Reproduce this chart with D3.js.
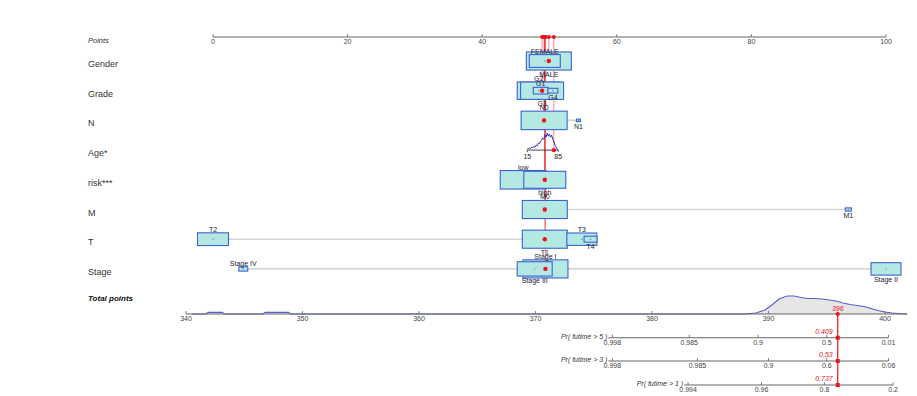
<!DOCTYPE html>
<html>
<head>
<meta charset="utf-8">
<script src="https://cdn.jsdelivr.net/npm/d3@7"></script>
<style>
  body { margin: 0; background: #fff; }
  svg text { font-family: "Liberation Sans", Arial, sans-serif; }
</style>
</head>
<body>
<div id="nomogram"></div>
<script>
// ---- data ----
var rowNames = ["Gender", "Grade", "N", "Age*", "risk***", "M", "T", "Stage"];

var genderLevels = ["FEMALE", "MALE"];
var genderPoints = [49.3, 49.9];
var genderN = [240, 506];

var gradeLevels = ["G1", "G2", "G3", "G4"];
var gradePoints = [48.7, 48.4, 48.9, 50.5];
var gradeN = [56, 462, 462, 25];

var nLevels = ["N0", "N1"];
var nPoints = [49.2, 54.3];
var nN = [529, 4];

var ageRange = [15, 85];
var agePointsRange = [46.7, 51.3];
var ageGrid = [15, 17.5, 20, 22.5, 25, 27.5, 30, 32.5, 35, 37.5, 40, 42.5, 45, 47.5, 50,
               52.5, 55, 57.5, 60, 62.5, 65, 67.5, 70, 72.5, 75, 77.5, 80, 82.5, 85];
var ageDensity = [1, 1.5, 2, 1.5, 3, 2.5, 3.5, 3, 5, 4.5, 7, 6.5, 9, 10, 12,
                  11, 15, 13, 17, 14, 16, 13, 15, 11, 9, 5, 3, 1, 0];

var riskLevels = ["low", "high"];
var riskPoints = [46.1, 49.3];
var riskN = [529, 441];

var mLevels = ["M0", "M1"];
var mPoints = [49.3, 94.4];
var mN = [506, 9];

var tLevels = ["T1", "T2", "T3", "T4"];
var tPoints = [49.3, 0, 54.8, 56.1];
var tN = [506, 240, 225, 42];

var stageLevels = ["Stage I", "Stage II", "Stage III", "Stage IV"];
var stagePoints = [49.4, 100, 47.8, 4.5];
var stageN = [506, 225, 306, 20];

// the patient shown in red
var patientLevel = { Gender: "MALE", Grade: "G3", N: "N0", "risk***": "high", M: "M0", T: "T1", Stage: "Stage I" };
var patientAge = 75;

var pointTicks = [0, 20, 40, 60, 80, 100];
var totalTicks = [340, 350, 360, 370, 380, 390, 400];
var totalDomain = [340, 401.9];

var totalDensT = [340.5, 341.7, 341.9, 343.1, 343.3, 346.6, 346.8, 348.8, 349, 388, 388.9, 389.7, 390.3, 390.9,
                  391.6, 392.2, 392.8, 393.4, 394, 394.6, 395.2, 395.8, 396.4, 397, 397.6, 398.2,
                  398.8, 399.4, 400, 400.6, 401.2, 401.9];
var totalDens = [0, 0, 1.6, 1.6, 0, 0, 1.6, 1.6, 0, 0, 1, 4, 9, 15,
                 18, 18, 16.5, 15.5, 15.5, 15, 14, 13, 11, 9.5, 8.5, 7.5,
                 5.5, 3.5, 2, 1, 0.5, 0];

var probLabels = ["Pr( futime > 5 )", "Pr( futime > 3 )", "Pr( futime > 1 )"];
var prob5Ticks = ["0.998", "0.985", "0.9", "0.5", "0.01"];
var prob5At = [376.6, 383.2, 389.1, 395.0, 400.3];
var prob3Ticks = ["0.998", "0.985", "0.9", "0.6", "0.06"];
var prob3At = [376.6, 383.9, 390.0, 395.0, 400.3];
var prob1Ticks = ["0.994", "0.96", "0.8", "0.2"];
var prob1At = [383.1, 389.4, 394.8, 400.7];
var patientProb = ["0.409", "0.53", "0.737"];

// ---- layout ----
var width = 917, height = 396;
var labelX = 88;
var pointsY = 37;
var rowY0 = 61, rowStep = 29.7;
var totalY = 314;
var probY = [337.7, 361, 385];

var red = "#e8141c";
var boxFill = "#b4e8e3";
var boxStroke = "#3b63d0";

// which side the level label sits on
var labelSide = {
  FEMALE: "above", MALE: "below",
  G1: "above", G2: "above", G3: "below", G4: "below",
  N0: "above", N1: "below",
  low: "above", high: "below",
  M0: "above", M1: "below",
  T1: "below", T2: "above", T3: "above", T4: "below",
  "Stage I": "above", "Stage II": "below", "Stage III": "below", "Stage IV": "above"
};

var svg = d3.select("#nomogram").append("svg")
  .attr("width", width)
  .attr("height", height);

var x = d3.scaleLinear().domain([0, 100]).range([213, 886]);
var xTot = d3.scaleLinear().domain([340, 400]).range([186, 885]);
var ageToPts = d3.scaleLinear().domain(ageRange).range(agePointsRange);

function rowY(i) { return rowY0 + i * rowStep; }

// row labels
svg.append("text").attr("x", labelX).attr("y", pointsY + 6)
  .attr("font-size", 7.5).attr("font-style", "italic").attr("fill", "#333").text("Points");
rowNames.forEach(function(name, i) {
  svg.append("text").attr("x", labelX).attr("y", rowY(i) + 6)
    .attr("font-size", 9).attr("fill", "#333").text(name);
});
svg.append("text").attr("x", labelX).attr("y", 301)
  .attr("font-size", 8).attr("font-style", "italic").attr("font-weight", "bold")
  .attr("fill", "#111").text("Total points");

// flat axis with small upward ticks, labels underneath
function flatAxis(g, scale, ticks, y, x0, x1) {
  g.append("line").attr("x1", x0).attr("x2", x1).attr("y1", y).attr("y2", y)
    .attr("stroke", "#666").attr("stroke-width", 1.2);
  ticks.forEach(function(t) {
    var tx = scale(t);
    g.append("line").attr("x1", tx).attr("x2", tx).attr("y1", y).attr("y2", y - 3)
      .attr("stroke", "#666").attr("stroke-width", 0.8);
    g.append("text").attr("x", tx).attr("y", y + 7).attr("text-anchor", "middle")
      .attr("font-size", 7).attr("fill", "#444").text(t);
  });
}
flatAxis(svg.append("g"), x, pointTicks, pointsY, x(0), x(100));

// categorical rows
var catRows = [
  { name: "Gender", levels: genderLevels, pts: genderPoints, n: genderN },
  { name: "Grade", levels: gradeLevels, pts: gradePoints, n: gradeN },
  { name: "N", levels: nLevels, pts: nPoints, n: nN },
  { name: "risk***", levels: riskLevels, pts: riskPoints, n: riskN },
  { name: "M", levels: mLevels, pts: mPoints, n: mN },
  { name: "T", levels: tLevels, pts: tPoints, n: tN },
  { name: "Stage", levels: stageLevels, pts: stagePoints, n: stageN }
];

var patientPts = [];
var redG = svg.append("g");
var rowsG = svg.append("g");

catRows.forEach(function(row) {
  var i = rowNames.indexOf(row.name);
  var y = rowY(i);
  var g = rowsG.append("g");
  var ext = d3.extent(row.pts);
  g.append("line").attr("x1", x(ext[0])).attr("x2", x(ext[1])).attr("y1", y).attr("y2", y)
    .attr("stroke", "#d6d6d6").attr("stroke-width", 1.6);

  var items = row.levels.map(function(l, k) {
    var w = 2.0 * Math.sqrt(row.n[k]);
    return { level: l, pts: row.pts[k], w: w, h: 0.38 * w + 1 };
  });
  items.sort(function(a, b) { return b.w - a.w; });

  g.selectAll("rect").data(items).enter().append("rect")
    .attr("x", function(d) { return x(d.pts) - d.w / 2; })
    .attr("y", function(d) { return y - d.h / 2; })
    .attr("width", function(d) { return d.w; })
    .attr("height", function(d) { return d.h; })
    .attr("fill", boxFill).attr("stroke", boxStroke).attr("stroke-width", 1.1);

  g.selectAll("circle.c").data(items).enter().append("circle")
    .attr("cx", function(d) { return x(d.pts); }).attr("cy", y).attr("r", 0.7)
    .attr("fill", "#6a8a9a");

  g.selectAll("text").data(items).enter().append("text")
    .attr("x", function(d) { return x(d.pts); })
    .attr("y", function(d) {
      return labelSide[d.level] === "above" ? y - d.h / 2 - 1 : y + d.h / 2 + 7;
    })
    .attr("text-anchor", "middle").attr("font-size", 7).attr("fill", "#223")
    .text(function(d) { return d.level; });

  var k = row.levels.indexOf(patientLevel[row.name]);
  patientPts.push({ pts: row.pts[k], y: y });
});

// age row
(function() {
  var i = rowNames.indexOf("Age*");
  var y = rowY(i);
  var g = rowsG.append("g");
  var ax0 = x(ageToPts(ageRange[0])), ax1 = x(ageToPts(ageRange[1]));
  g.append("line").attr("x1", ax0).attr("x2", ax1).attr("y1", y).attr("y2", y)
    .attr("stroke", "#333").attr("stroke-width", 0.9);
  ageRange.forEach(function(a) {
    g.append("line").attr("x1", x(ageToPts(a))).attr("x2", x(ageToPts(a)))
      .attr("y1", y).attr("y2", y + 2).attr("stroke", "#333").attr("stroke-width", 0.8);
    g.append("text").attr("x", x(ageToPts(a))).attr("y", y + 9).attr("text-anchor", "middle")
      .attr("font-size", 7).attr("fill", "#222").text(a);
  });
  var hY = d3.scaleLinear().domain([0, 17]).range([y, y - 17]);
  var line = d3.line()
    .x(function(d, k) { return x(ageToPts(ageGrid[k])); })
    .y(function(d) { return hY(d); });
  g.append("path").datum(ageDensity).attr("d", line)
    .attr("fill", "none").attr("stroke", "#3030c8").attr("stroke-width", 1);
  patientPts.push({ pts: ageToPts(patientAge), y: y });
})();

// red patient lines and dots
patientPts.forEach(function(p) {
  redG.append("line").attr("x1", x(p.pts)).attr("x2", x(p.pts))
    .attr("y1", pointsY).attr("y2", p.y)
    .attr("stroke", red).attr("stroke-width", 0.7).attr("opacity", 0.7);
});
var dotG = svg.append("g");
patientPts.forEach(function(p) {
  dotG.append("circle").attr("cx", x(p.pts)).attr("cy", p.y).attr("r", 2.2).attr("fill", red);
  dotG.append("circle").attr("cx", x(p.pts)).attr("cy", pointsY).attr("r", 2).attr("fill", red);
});

var total = d3.sum(patientPts, function(p) { return p.pts; });

// total points density + axis
var dScale = d3.scaleLinear().domain([0, 18]).range([totalY, totalY - 18]);
var area = d3.area()
  .x(function(d, k) { return xTot(totalDensT[k]); })
  .y0(totalY).y1(function(d) { return dScale(d); });
var dLine = d3.line()
  .x(function(d, k) { return xTot(totalDensT[k]); })
  .y(function(d) { return dScale(d); });
svg.append("path").datum(totalDens).attr("d", area).attr("fill", "#e6e6e6");
svg.append("path").datum(totalDens).attr("d", dLine)
  .attr("fill", "none").attr("stroke", "#5b5bd0").attr("stroke-width", 1.1);
flatAxis(svg.append("g"), xTot, totalTicks, totalY, xTot(totalDomain[0]), xTot(totalDomain[1]));

// probability axes
var probTicks = [prob5Ticks, prob3Ticks, prob1Ticks];
var probAt = [prob5At, prob3At, prob1At];
svg.append("line").attr("x1", xTot(total)).attr("x2", xTot(total))
  .attr("y1", totalY).attr("y2", probY[2])
  .attr("stroke", red).attr("stroke-width", 1.2);
probLabels.forEach(function(lab, j) {
  var g = svg.append("g");
  var at = probAt[j], y = probY[j];
  var x0 = xTot(at[0]) - 4;
  g.append("line").attr("x1", x0).attr("x2", xTot(at[at.length - 1])).attr("y1", y).attr("y2", y)
    .attr("stroke", "#666").attr("stroke-width", 1.1);
  at.forEach(function(t, k) {
    g.append("line").attr("x1", xTot(t)).attr("x2", xTot(t)).attr("y1", y).attr("y2", y - 3)
      .attr("stroke", "#666").attr("stroke-width", 0.8);
    g.append("text").attr("x", xTot(t)).attr("y", y + 7).attr("text-anchor", "middle")
      .attr("font-size", 7).attr("fill", "#444").text(probTicks[j][k]);
  });
  g.append("text").attr("x", x0 - 1).attr("y", y + 1).attr("text-anchor", "end")
    .attr("font-size", 7).attr("font-style", "italic").attr("fill", "#333").text(lab);
  g.append("rect").attr("x", xTot(total) - 2).attr("y", y - 2).attr("width", 4).attr("height", 4)
    .attr("fill", red);
  g.append("text").attr("x", xTot(total) - 5).attr("y", y - 4).attr("text-anchor", "end")
    .attr("font-size", 7).attr("font-style", "italic").attr("fill", red).text(patientProb[j]);
});

svg.append("circle").attr("cx", xTot(total)).attr("cy", totalY).attr("r", 2).attr("fill", red);
svg.append("text").attr("x", xTot(total)).attr("y", totalY - 3).attr("text-anchor", "middle")
  .attr("font-size", 7).attr("font-style", "italic").attr("fill", red).text(d3.format(".0f")(total));
</script>
</body>
</html>
